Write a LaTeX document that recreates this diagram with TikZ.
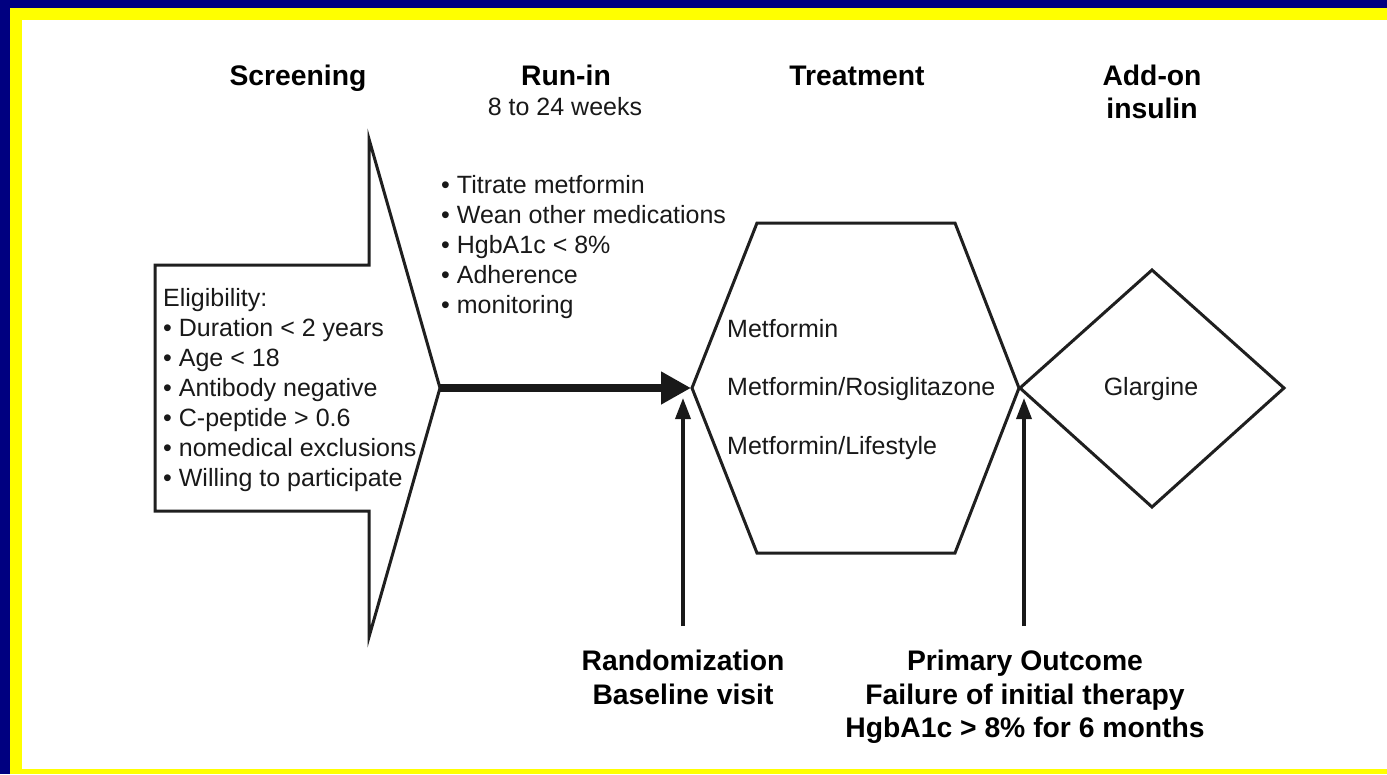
\documentclass[tikz,border=0pt]{standalone}
\usepackage{fontspec}
\setmainfont{Liberation Sans}
\usetikzlibrary{arrows.meta}
\definecolor{bgblue}{RGB}{0,0,128}
\definecolor{bdyellow}{RGB}{255,255,0}
\begin{document}
\begin{tikzpicture}[x=1pt,y=-1pt,
  outline/.style={draw=black!88, line width=3pt, line join=miter},
  body/.style={font=\fontsize{25}{30}\selectfont, inner sep=0pt, text=black!90},
  head/.style={font=\fontsize{28.3}{33}\selectfont\bfseries, inner sep=0pt, text=black},
  bigarrow/.style={line width=8pt, draw=black!90, -{Triangle[length=30pt,width=31pt]}},
  uparrow/.style={line width=3.5pt, draw=black!90, -{Triangle[length=21pt,width=15pt]}}
]
% frame
\fill[bgblue] (0,0) rectangle (1387,774);
\fill[bdyellow] (10,8) rectangle (1387,774);
\fill[white] (22,20) rectangle (1387,769);
\useasboundingbox (0,0) rectangle (1387,774);

% screening arrow shape
\draw[outline] (155,265) -- (369,265) -- (369,139) -- (440,388) -- (369,637) -- (369,511) -- (155,511) -- cycle;
% treatment hexagon
\draw[outline] (692,388) -- (757,223) -- (955,223) -- (1019,388) -- (955,553) -- (757,553) -- cycle;
% add-on diamond
\draw[outline] (1020,388) -- (1152,270) -- (1284,388) -- (1152,507) -- cycle;

% headings
\node[head, anchor=base] (hscr) at (298,85) {Screening};
\node[head, anchor=base] (hrun) at (566,85) {Run-in};
\node[body, anchor=base] (hrunw) at (565,115) {8 to 24 weeks};
\node[head, anchor=base] (htrt) at (857,85) {Treatment};
\node[head, anchor=base] (hadd1) at (1152,85) {Add-on};
\node[head, anchor=base] (hadd2) at (1152,118) {insulin};

% run-in list
\foreach \t [count=\i] in {Titrate metformin, Wean other medications, HgbA1c < 8\%, Adherence, monitoring}
  \node[body, anchor=base west] (run\i) at (441, 163+30*\i) {•\ \t};

% eligibility list
\node[body, anchor=base west] (elig) at (163,306) {Eligibility:};
\foreach \t [count=\i] in {Duration < 2 years, Age < 18, Antibody negative, C-peptide > 0.6, nomedical exclusions, Willing to participate}
  \node[body, anchor=base west] (el\i) at (163, 306+30*\i) {•\ \t};

% treatment arms
\node[body, anchor=base west] (arm1) at (727,337) {Metformin};
\node[body, anchor=base west] (arm2) at (727,395) {Metformin/Rosiglitazone};
\node[body, anchor=base west] (arm3) at (727,454) {Metformin/Lifestyle};

% add-on
\node[body, anchor=base] (glar) at (1151,395) {Glargine};

% bottom labels
\node[head, anchor=base] (rand1) at (683,670) {Randomization};
\node[head, anchor=base] (rand2) at (683,704) {Baseline visit};
\node[head, anchor=base] (prim1) at (1025,670) {Primary Outcome};
\node[head, anchor=base] (prim2) at (1025,704) {Failure of initial therapy};
\node[head, anchor=base] (prim3) at (1025,737) {HgbA1c > 8\% for 6 months};

% connectors
\coordinate (scrtip) at (440,388);
\coordinate (hexL) at (691,388);
\draw[bigarrow] (scrtip) -- (hexL);

\coordinate (randbot) at (683,626);
\coordinate (randtop) at (683,398);
\draw[uparrow] (randbot) -- (randtop);

\coordinate (primbot) at (1024,626);
\coordinate (primtop) at (1024,398);
\draw[uparrow] (primbot) -- (primtop);
\end{tikzpicture}
\end{document}
